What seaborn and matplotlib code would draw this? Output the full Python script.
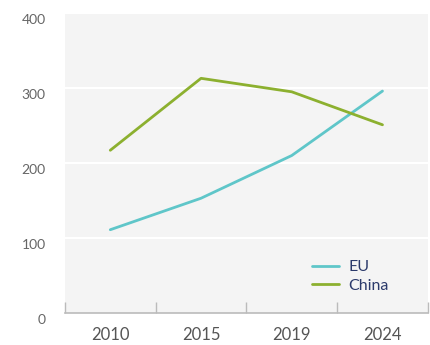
import matplotlib
matplotlib.use("Agg")
import matplotlib.pyplot as plt
import matplotlib.transforms as mtransforms
import pandas as pd
import seaborn as sns

years = ["2010", "2015", "2019", "2024"]
eu = [111, 153, 210, 296]
china = [217, 313, 295, 251]
y_ticks = [0, 100, 200, 300, 400]

df = pd.DataFrame({
    "year": years * 2,
    "value": eu + china,
    "region": ["EU"] * 4 + ["China"] * 4,
})

sns.set_theme(style="white")
plt.rcParams["font.family"] = ["Lato", "DejaVu Sans"]

fig = plt.figure(figsize=(4.3, 3.45), dpi=100)
ax = fig.add_axes([0.151, 0.093, 0.844, 0.869])
ax.set_facecolor("#f4f4f4")

sns.lineplot(data=df, x="year", y="value", hue="region",
             palette={"EU": "#5fc6c9", "China": "#8cb02f"},
             linewidth=2, ax=ax, sort=False)

ax.set_xlim(-0.5, 3.5)
ax.set_ylim(0, 400)
ax.set_xlabel("")
ax.set_ylabel("")

for v in y_ticks[1:]:
    ax.axhline(v, color="white", linewidth=1.5, zorder=1)

for s in ["top", "right", "left"]:
    ax.spines[s].set_visible(False)
ax.spines["bottom"].set_color("#bbbbbb")
ax.spines["bottom"].set_linewidth(1.2)

ax.set_yticks(y_ticks)
ax.tick_params(axis="y", length=0, labelsize=10, labelcolor="#666666", pad=14)
offset = mtransforms.ScaledTranslation(0, -6 / 100, fig.dpi_scale_trans)
for lbl in ax.get_yticklabels():
    lbl.set_transform(lbl.get_transform() + offset)

ax.set_xticks(range(len(years)))
ax.set_xticklabels(years)
ax.set_xticks([-0.5, 0.5, 1.5, 2.5, 3.5], minor=True)
ax.tick_params(axis="x", which="major", length=0, labelsize=12,
               labelcolor="#555555", pad=10)
ax.tick_params(axis="x", which="minor", bottom=True, length=8, width=1,
               color="#bbbbbb", direction="in")

leg = ax.legend(loc="lower left", bbox_to_anchor=(0.64, 0.02), frameon=False,
                fontsize=11.5, handlelength=1.7, handletextpad=0.6, labelspacing=0.25)
for t in leg.get_texts():
    t.set_color("#2b3a6b")

fig.savefig("out.png", dpi=100)
